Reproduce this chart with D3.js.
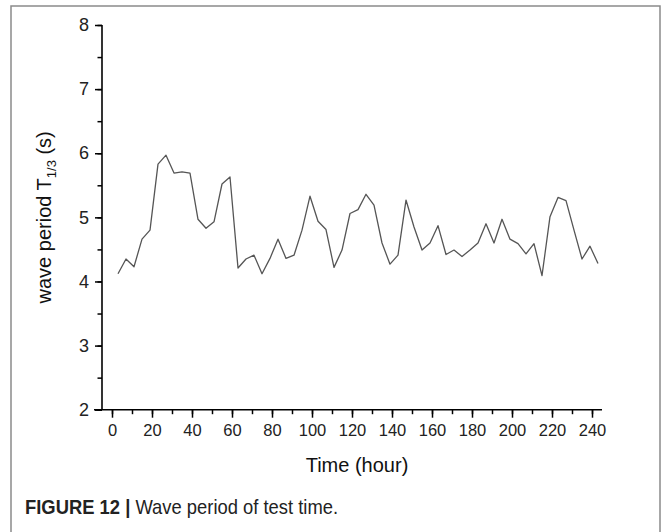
<!DOCTYPE html>
<html>
<head>
<meta charset="utf-8">
<script src="https://cdn.jsdelivr.net/npm/d3@7"></script>
<style>
  body { margin: 0; background: #fff; }
  svg { display: block; font-family: "Liberation Sans", Arial, sans-serif; }
</style>
</head>
<body>
<div id="app"></div>
<script>
"use strict";

// sample times (h), every 4 h
const hours = [3, 7, 11, 15, 19, 23, 27, 31, 35, 39, 43, 47, 51, 55, 59, 63, 67, 71, 75, 79,
    83, 87, 91, 95, 99, 103, 107, 111, 115, 119, 123, 127, 131, 135, 139, 143, 147, 151, 155, 159,
    163, 167, 171, 175, 179, 183, 187, 191, 195, 199, 203, 207, 211, 215, 219, 223, 227, 231, 235, 239, 243];
const wavePeriod = [4.12, 4.35, 4.23, 4.66, 4.80, 5.83, 5.97, 5.69, 5.71, 5.69, 4.97, 4.83, 4.93, 5.52, 5.63, 4.21, 4.35, 4.41, 4.12, 4.36,
    4.66, 4.36, 4.41, 4.80, 5.33, 4.94, 4.81, 4.22, 4.49, 5.06, 5.12, 5.36, 5.19, 4.60, 4.27, 4.41, 5.27, 4.85, 4.49, 4.60,
    4.87, 4.42, 4.49, 4.39, 4.49, 4.60, 4.90, 4.60, 4.97, 4.66, 4.59, 4.43, 4.59, 4.09, 5.01, 5.31, 5.26, 4.80, 4.35, 4.55, 4.28];
const xTicks = [0, 20, 40, 60, 80, 100, 120, 140, 160, 180, 200, 220, 240];
const yTicks = [2, 3, 4, 5, 6, 7, 8];

const W = 667, H = 532;
const svg = d3.select("#app").append("svg").attr("width", W).attr("height", H);

// figure frame
svg.append("rect")
    .attr("x", 11).attr("y", 6).attr("width", 649).attr("height", 540)
    .attr("fill", "none").attr("stroke", "#8a8a8a").attr("stroke-width", 1.5);

const x = d3.scaleLinear().domain([0, 240]).range([112, 592]);
const y = d3.scaleLinear().domain([2, 8]).range([409.7, 25]);
const yAxisX = 102;

// x axis
const gx = svg.append("g").attr("transform", `translate(0,${y(2)})`);
gx.call(d3.axisBottom(x).tickValues(d3.range(0, 241, 10)).tickSize(4.5).tickFormat(""));
gx.selectAll(".tick line").attr("stroke-width", 1.5);
gx.select(".domain").attr("stroke-width", 1.6).attr("d", `M${x(-9)},0H${x(245)}`);
const gxMajor = svg.append("g").attr("transform", `translate(0,${y(2)})`);
gxMajor.call(d3.axisBottom(x).tickValues(xTicks).tickSize(8).tickPadding(7).tickFormat(d3.format("d")));
gxMajor.select(".domain").remove();
gxMajor.selectAll(".tick line").attr("stroke-width", 1.5);
gxMajor.selectAll("text").attr("font-size", 16.5).attr("fill", "#222");

// y axis
const gy = svg.append("g").attr("transform", `translate(${yAxisX},0)`);
gy.call(d3.axisLeft(y).tickValues(d3.range(2, 8.01, 0.5)).tickSize(4.5).tickFormat(""));
gy.selectAll(".tick line").attr("stroke-width", 1.5);
gy.select(".domain").attr("stroke-width", 1.6).attr("d", `M0,${y(8)}V${y(2)}`);
const gyMajor = svg.append("g").attr("transform", `translate(${yAxisX},0)`);
gyMajor.call(d3.axisLeft(y).tickValues(yTicks).tickSize(7).tickPadding(6).tickFormat(d3.format("d")));
gyMajor.select(".domain").remove();
gyMajor.selectAll(".tick line").attr("stroke-width", 1.5);
gyMajor.selectAll("text").attr("font-size", 18).attr("fill", "#222");

// the series
const line = d3.line().x((d, i) => x(hours[i])).y(d => y(d));
svg.append("path")
    .datum(wavePeriod)
    .attr("d", line)
    .attr("fill", "none")
    .attr("stroke", "#555")
    .attr("stroke-width", 1.3)
    .attr("stroke-linejoin", "round");

// axis titles
svg.append("text")
    .attr("x", 357).attr("y", 472)
    .attr("text-anchor", "middle").attr("font-size", 20).attr("fill", "#111")
    .text("Time (hour)");

const yt = svg.append("text")
    .attr("transform", `translate(51,${y(5)}) rotate(-90)`)
    .attr("text-anchor", "middle").attr("font-size", 20).attr("fill", "#111");
yt.append("tspan").text("wave period T");
yt.append("tspan").attr("font-size", 13).attr("dy", 5).text("1/3");
yt.append("tspan").attr("dy", -5).text(" (s)");

// caption, condensed face
const cap = svg.append("text")
    .attr("transform", "translate(25,514) scale(0.92,1)")
    .attr("font-size", 20).attr("fill", "#222");
cap.append("tspan").attr("font-weight", "bold").text("FIGURE 12 | ");
cap.append("tspan").text("Wave period of test time.");
</script>
</body>
</html>
